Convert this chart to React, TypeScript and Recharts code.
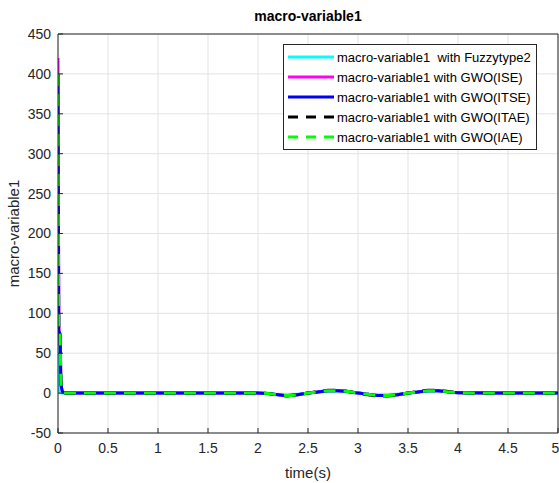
import React from 'react';
import { LineChart, Line, XAxis, YAxis, CartesianGrid, ReferenceLine } from 'recharts';

// time samples (s)
const time = [0, 0.008, 0.02, 0.03, 0.05, 0.1, 0.5, 1, 1.5, 2, 2.1, 2.2, 2.3, 2.4, 2.5, 2.6, 2.7, 2.8, 2.9, 3.0, 3.1, 3.2, 3.3, 3.4, 3.5, 3.6, 3.7, 3.8, 3.9, 4.0, 4.5, 5];

const fuzzy = [75, 4, 1, 0, 0, 0, 0, 0, 0, 0, -0.5, -2, -2.5, -1.5, 0, 1.5, 2.5, 2.5, 1.5, 0, -1.5, -2.5, -2.5, -1.5, 0, 1.5, 2.5, 2.5, 1.5, 0.5, 0, 0];
const gwoISE = [420, 80, 72, 11, 1, 0, 0, 0, 0, 0, -0.5, -2, -3, -2, 0, 1.5, 3, 3, 2, 0, -1.5, -3, -3, -2, 0, 1.5, 3, 3, 1.5, 0.5, 0, 0];
const gwoITSE = [400, 78, 74, 12, 1, 0, 0, 0, 0, 0, -0.5, -2, -3, -2, 0, 1.5, 3, 3, 2, 0, -1.5, -3, -3, -2, 0, 1.5, 3, 3, 1.5, 0.5, 0, 0];
const gwoITAE = [400, 78, 74, 12, 1, 0, 0, 0, 0, 0, -0.5, -2.5, -3.5, -2, 0, 2, 3.5, 3.5, 2, 0, -2, -3.5, -3.5, -2, 0, 2, 3.5, 3.5, 2, 0.5, 0, 0];
const gwoIAE = [400, 78, 74, 12, 1, 0, 0, 0, 0, 0, -0.5, -2, -3, -2, 0, 1.5, 3, 3, 2, 0, -1.5, -3, -3, -2, 0, 1.5, 3, 3, 1.5, 0.5, 0, 0];

const xTicks = [0, 0.5, 1, 1.5, 2, 2.5, 3, 3.5, 4, 4.5, 5];
const yTicks = [-50, 0, 50, 100, 150, 200, 250, 300, 350, 400, 450];

const series = [
  { key: 'fuzzy', name: 'macro-variable1  with Fuzzytype2', color: '#00ffff', dash: undefined },
  { key: 'ise', name: 'macro-variable1 with GWO(ISE)', color: '#ff00ff', dash: undefined },
  { key: 'itse', name: 'macro-variable1 with GWO(ITSE)', color: '#0000ff', dash: undefined },
  { key: 'itae', name: 'macro-variable1 with GWO(ITAE)', color: '#000000', dash: '12 8' },
  { key: 'iae', name: 'macro-variable1 with GWO(IAE)', color: '#00ff00', dash: '12 8' },
];

const data = time.map((t, i) => ({
  t,
  fuzzy: fuzzy[i],
  ise: gwoISE[i],
  itse: gwoITSE[i],
  itae: gwoITAE[i],
  iae: gwoIAE[i],
}));

const font = '"Liberation Sans", Arial, sans-serif';

const LegendBox = () => (
  <div style={{ position: 'absolute', left: 283, top: 44, border: '1px solid #262626', background: '#fff', padding: '2px 5px 2px 2px', fontFamily: font, fontSize: 13, color: '#000' }}>
    {series.map((s) => (
      <div key={s.key} style={{ display: 'flex', alignItems: 'center', height: 20 }}>
        <svg width={48} height={8} style={{ marginRight: 3 }}>
          <line x1={2} y1={4} x2={48} y2={4} stroke={s.color} strokeWidth={3} strokeDasharray={s.dash ? '10 8' : undefined} />
        </svg>
        <span style={{ whiteSpace: 'pre' }}>{s.name}</span>
      </div>
    ))}
  </div>
);

const App: React.FC = () => {
  return (
    <div style={{ position: 'absolute', left: 0, top: 0, width: 559, height: 483, background: '#fff', fontFamily: font }}>
      <div style={{ position: 'absolute', left: 58, width: 500, top: 8, textAlign: 'center', fontWeight: 'bold', fontSize: 14, color: '#000' }}>
        macro-variable1
      </div>
      <LineChart width={559} height={483} data={data} margin={{ top: 34, right: 1, bottom: 0, left: 0 }}>
        <CartesianGrid stroke="#e3e3e3" />
        <XAxis
          dataKey="t"
          type="number"
          domain={[0, 5]}
          ticks={xTicks}
          allowDataOverflow
          height={50}
          stroke="#262626"
          tickSize={-5}
          tickMargin={15}
          tick={{ fill: '#262626', fontSize: 14, fontFamily: font }}
          label={{ value: 'time(s)', position: 'insideBottom', offset: 5, fill: '#262626', fontSize: 15, fontFamily: font }}
        />
        <YAxis
          type="number"
          domain={[-50, 450]}
          ticks={yTicks}
          allowDataOverflow
          width={58}
          stroke="#262626"
          tickSize={-5}
          tickMargin={12}
          tick={{ fill: '#262626', fontSize: 14, fontFamily: font }}
          label={{ value: 'macro-variable1', angle: -90, position: 'insideLeft', offset: 14, style: { textAnchor: 'middle' }, fill: '#262626', fontSize: 15, fontFamily: font }}
        />
        <ReferenceLine y={450} stroke="#262626" />
        <ReferenceLine x={5} stroke="#262626" />
        {series.map((s) => (
          <Line
            key={s.key}
            dataKey={s.key}
            name={s.name}
            type="monotone"
            stroke={s.color}
            strokeWidth={3}
            strokeDasharray={s.dash}
            dot={false}
            isAnimationActive={false}
          />
        ))}
      </LineChart>
      <LegendBox />
    </div>
  );
};

export default App;
